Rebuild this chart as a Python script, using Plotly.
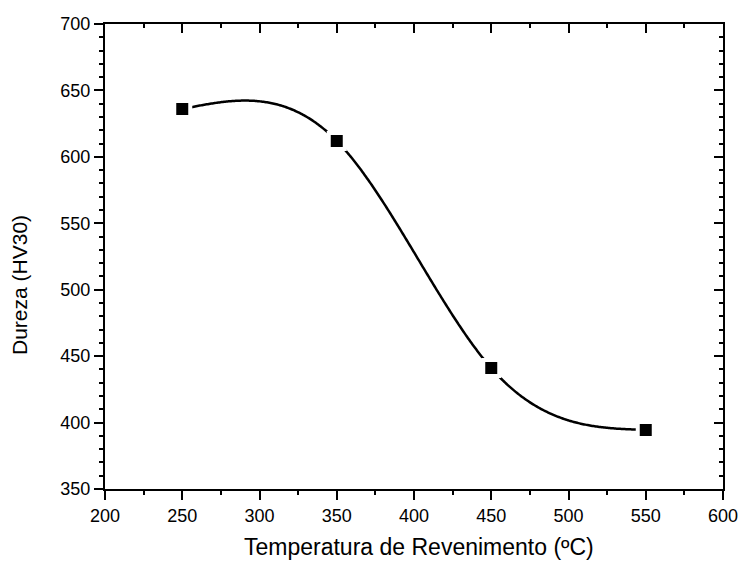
import numpy as np
import plotly.graph_objects as go

# Data
temperature = [250, 350, 450, 550]          # Temperatura de Revenimento (ºC)
hardness = [636, 612, 441, 394.5]           # Dureza (HV30)
x_ticks = [200, 250, 300, 350, 400, 450, 500, 550, 600]
y_ticks = [350, 400, 450, 500, 550, 600, 650, 700]


def natural_cubic_spline(xs, ys, n=400):
    xs = np.asarray(xs, float)
    ys = np.asarray(ys, float)
    k = len(xs)
    h = np.diff(xs)
    A = np.zeros((k, k))
    b = np.zeros(k)
    A[0, 0] = 1
    A[-1, -1] = 1
    for i in range(1, k - 1):
        A[i, i - 1] = h[i - 1]
        A[i, i] = 2 * (h[i - 1] + h[i])
        A[i, i + 1] = h[i]
        b[i] = 6 * ((ys[i + 1] - ys[i]) / h[i] - (ys[i] - ys[i - 1]) / h[i - 1])
    M = np.linalg.solve(A, b)
    xx = np.linspace(xs[0], xs[-1], n)
    yy = np.empty_like(xx)
    for j, x in enumerate(xx):
        i = min(np.searchsorted(xs, x, side="right") - 1, k - 2)
        i = max(i, 0)
        t1 = xs[i + 1] - x
        t0 = x - xs[i]
        hi = h[i]
        yy[j] = (M[i] * t1 ** 3 / (6 * hi) + M[i + 1] * t0 ** 3 / (6 * hi)
                 + (ys[i] / hi - M[i] * hi / 6) * t1
                 + (ys[i + 1] / hi - M[i + 1] * hi / 6) * t0)
    return xx, yy


sx, sy = natural_cubic_spline(temperature, hardness)

fig = go.Figure()
fig.add_trace(go.Scatter(x=sx, y=sy, mode="lines",
                         line=dict(color="black", width=2.5, simplify=False),
                         hoverinfo="skip", showlegend=False))
fig.add_trace(go.Scatter(x=temperature, y=hardness, mode="markers",
                         marker=dict(symbol="square", size=16, color="black",
                                     line=dict(color="white", width=4)),
                         showlegend=False))
# invisible trace for the mirrored (top/right) axes
fig.add_trace(go.Scatter(x=temperature, y=hardness, mode="markers",
                         xaxis="x2", yaxis="y2",
                         marker=dict(opacity=0), hoverinfo="skip",
                         showlegend=False))

font = "Liberation Sans, Arial, sans-serif"
common = dict(showgrid=False, zeroline=False, showline=True,
              linecolor="black", linewidth=2, tickcolor="black",
              tickwidth=2, automargin=False)

fig.update_layout(
    width=739, height=561, autosize=False,
    margin=dict(l=105, r=16, t=24, b=72),
    paper_bgcolor="white", plot_bgcolor="white",
    font=dict(family=font, color="black", size=18),
    xaxis=dict(range=[200, 600], tickvals=x_ticks, ticks="outside",
               ticklen=9, tickfont=dict(size=18),
               minor=dict(dtick=25, tick0=200, ticks="outside", ticklen=4,
                          tickwidth=2, tickcolor="black"),
               **common),
    yaxis=dict(range=[350, 700], tickvals=y_ticks, ticks="outside",
               ticklen=9, tickfont=dict(size=18),
               minor=dict(dtick=10, tick0=350, ticks="outside", ticklen=4,
                          tickwidth=2, tickcolor="black"),
               **common),
    xaxis2=dict(range=[200, 600], overlaying="x", side="top",
                tickvals=x_ticks, ticks="inside", ticklen=9,
                showticklabels=False,
                minor=dict(dtick=25, tick0=200, ticks="inside", ticklen=4,
                           tickwidth=2, tickcolor="black"),
                **common),
    yaxis2=dict(range=[350, 700], overlaying="y", side="right",
                tickvals=y_ticks, ticks="inside", ticklen=9,
                showticklabels=False,
                minor=dict(dtick=10, tick0=350, ticks="inside", ticklen=4,
                           tickwidth=2, tickcolor="black"),
                **common),
    annotations=[
        dict(text="Temperatura de Revenimento (ºC)", xref="paper",
             yref="paper", x=(419 - 105) / 618, y=-(547 - 489) / 465,
             xanchor="center", yanchor="middle", showarrow=False,
             font=dict(family=font, size=23, color="black")),
        dict(text="Dureza (HV30)", xref="paper", yref="paper",
             x=(19 - 105) / 618, y=(489 - 285) / 465, textangle=-90,
             xanchor="center", yanchor="middle", showarrow=False,
             font=dict(family=font, size=21, color="black")),
    ],
)

fig.write_html("out.html")
